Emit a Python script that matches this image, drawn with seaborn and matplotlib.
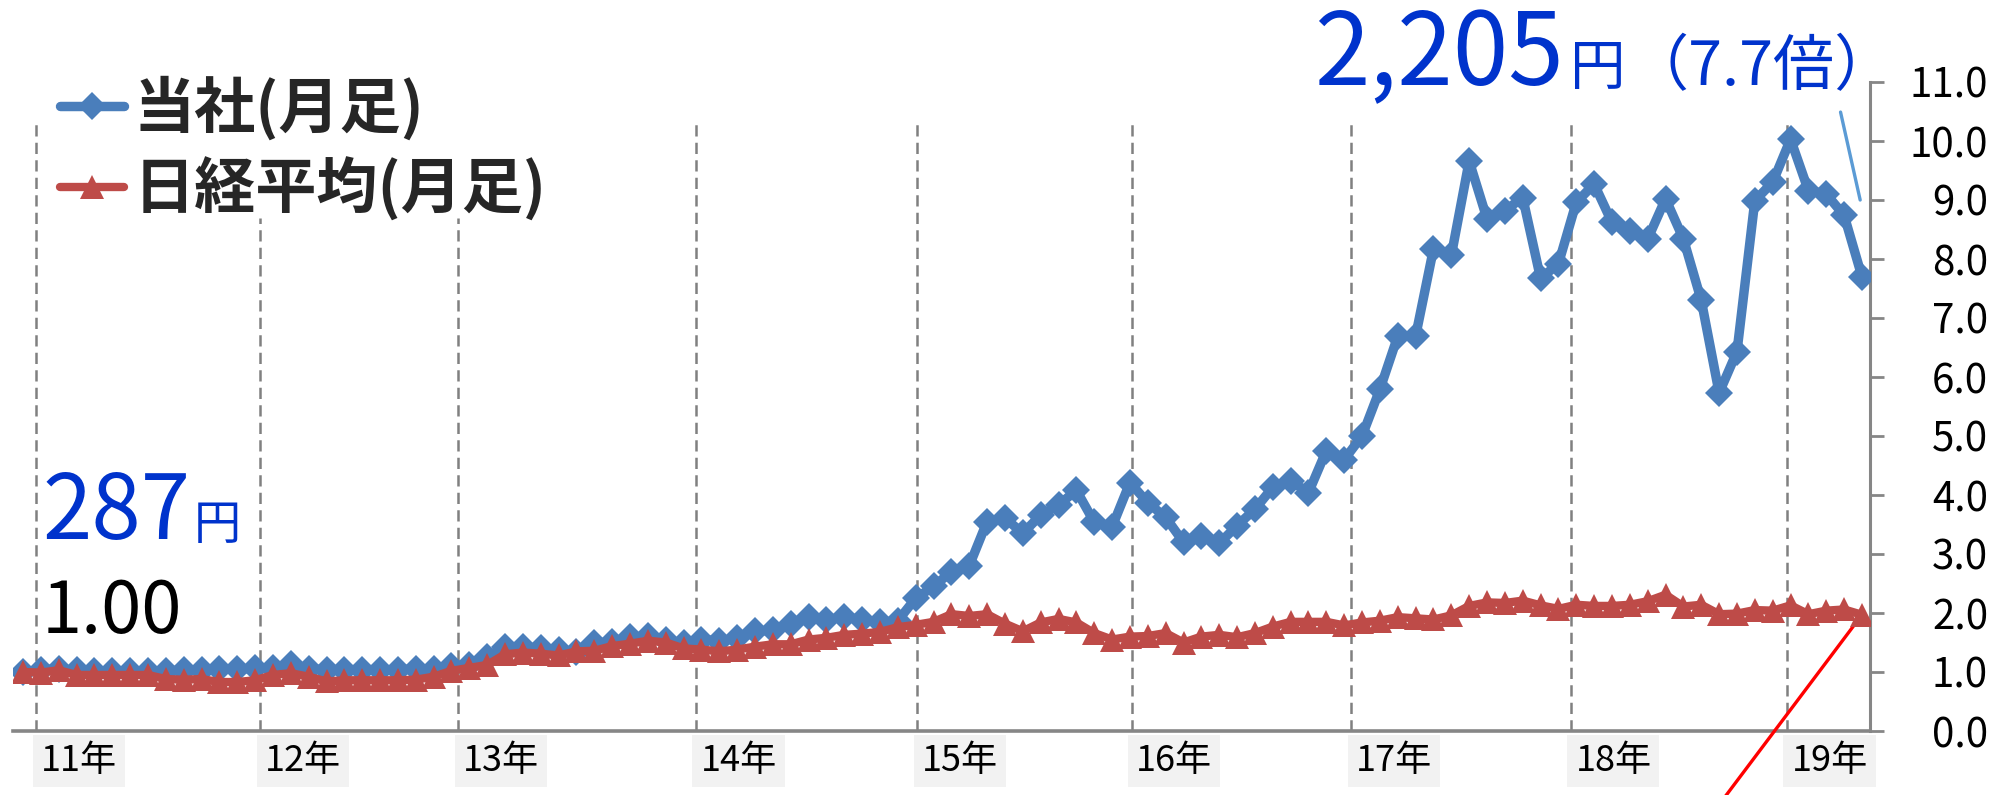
import numpy as np
import matplotlib
matplotlib.use("Agg")
import matplotlib.pyplot as plt
from matplotlib.font_manager import FontProperties
import seaborn as sns

# ---------------- data (monthly closes, index 0 = base month) ----------------
company = [1.00,
    1.04, 1.05, 1.03, 1.02, 1.02, 1.02, 1.02, 1.02, 1.03, 1.03, 1.05, 1.05,
    1.06, 1.07, 1.14, 1.05, 1.04, 1.04, 1.04, 1.04, 1.04, 1.05, 1.05, 1.10,
    1.12, 1.26, 1.43, 1.43, 1.40, 1.37, 1.34, 1.49, 1.51, 1.59, 1.61, 1.54,
    1.49, 1.55, 1.53, 1.57, 1.69, 1.71, 1.82, 1.94, 1.88, 1.94, 1.88, 1.84, 1.87,
    2.25, 2.45, 2.70, 2.80, 3.55, 3.61, 3.35, 3.66, 3.83, 4.08, 3.54, 3.46,
    4.21, 3.87, 3.62, 3.20, 3.31, 3.18, 3.48, 3.76, 4.13, 4.24, 4.04, 4.75,
    4.60, 5.00, 5.79, 6.69, 6.69, 8.17, 8.06, 9.66, 8.68, 8.82, 9.04, 7.67,
    7.92, 8.96, 9.27, 8.62, 8.48, 8.34, 9.02, 8.34, 7.30, 5.73, 6.43, 8.99,
    9.30, 10.03, 9.16, 9.10, 8.74, 7.70]
nikkei = [1.00,
    0.99, 1.03, 0.95, 0.95, 0.95, 0.95, 0.95, 0.88, 0.87, 0.88, 0.83, 0.83,
    0.86, 0.95, 0.98, 0.92, 0.84, 0.86, 0.86, 0.86, 0.86, 0.87, 0.92, 1.02,
    1.07, 1.12, 1.30, 1.33, 1.31, 1.28, 1.35, 1.36, 1.44, 1.48, 1.53, 1.50,
    1.40, 1.38, 1.35, 1.38, 1.43, 1.47, 1.47, 1.55, 1.58, 1.63, 1.65, 1.68, 1.76,
    1.80, 1.85, 1.98, 1.95, 1.98, 1.82, 1.69, 1.84, 1.90, 1.84, 1.66, 1.55,
    1.60, 1.61, 1.66, 1.50, 1.60, 1.63, 1.59, 1.66, 1.77, 1.85, 1.85, 1.85,
    1.79, 1.84, 1.87, 1.93, 1.91, 1.89, 1.96, 2.12, 2.18, 2.17, 2.21, 2.13,
    2.07, 2.14, 2.12, 2.12, 2.14, 2.20, 2.31, 2.11, 2.14, 1.98, 1.99, 2.05,
    2.04, 2.13, 1.98, 2.04, 2.06, 1.97]
months = list(range(len(company)))
year_labels = ["11年", "12年", "13年", "14年", "15年", "16年", "17年", "18年", "19年"]
series_labels = ["当社(月足)", "日経平均(月足)"]
y_ticks = [0.0, 1.0, 2.0, 3.0, 4.0, 5.0, 6.0, 7.0, 8.0, 9.0, 10.0, 11.0]
start_price = "287"
end_price = "2,205"
end_ratio = "（7.7倍）"
base_ratio = "1.00"

# ---------------- layout / style ----------------
W, H = 1997, 795
BLUE = "#4A7EBB"
RED = "#BE4B48"
TXT_BLUE = "#0033CC"
GRAY = "#868686"
grid_pos = [0.73, 13.28, 24.37, 37.69, 50.1, 62.1, 74.4, 86.7, 98.8]
grid_top = [10.37, 8.7, 8.7, 10.37, 10.37, 10.37, 10.37, 10.37, 10.37]
n_last = len(company) - 1

sns.set_style("white")
plt.rcParams["font.family"] = ["Noto Sans CJK JP", "DejaVu Sans"]

fig = plt.figure(figsize=(W / 100, H / 100), dpi=100)
ax = fig.add_axes([13 / W, 1 - 731 / H, (1870 - 13) / W, (731 - 82) / H])

# year gridlines
for gx, gt in zip(grid_pos, grid_top):
    ax.plot([gx, gx], [0, gt], color="#808080", lw=1.8, ls=(0, (4.5, 2.5)), zorder=1)

sns.lineplot(x=months, y=company, ax=ax, color=BLUE, lw=6.8, marker="D",
             markersize=14, markeredgewidth=0, zorder=3, legend=False)
l_company = ax.lines[-1]
sns.lineplot(x=months, y=nikkei, ax=ax, color=RED, lw=6.0, marker="^",
             markersize=17, markeredgewidth=0, zorder=4, legend=False)
l_nikkei = ax.lines[-1]

ax.set_xlim(-0.56, n_last + 0.45)
ax.set_ylim(0, 11)
ax.set_xlabel("")
ax.set_ylabel("")
ax.set_xticks([])

# axes styling
for s in ["top", "left"]:
    ax.spines[s].set_visible(False)
ax.spines["bottom"].set_color(GRAY)
ax.spines["bottom"].set_linewidth(2.6)
ax.spines["right"].set_color(GRAY)
ax.spines["right"].set_linewidth(2.2)
ax.yaxis.tick_right()
ax.set_yticks(y_ticks)
ax.set_yticklabels([f"{v:.1f}" for v in y_ticks])
ax.tick_params(axis="y", direction="out", length=10, width=2, color=GRAY,
               labelsize=29, pad=75, labelcolor="black")
for lab in ax.get_yticklabels():
    lab.set_horizontalalignment("right")

# year labels with light grey boxes
for gx, lab in zip(grid_pos, year_labels):
    ax.text(gx + 0.25, -0.018, lab, transform=ax.get_xaxis_transform(),
            ha="left", va="top", fontsize=26, color="black",
            bbox=dict(boxstyle="square,pad=0.22", fc="#F2F2F2", ec="none"))

# legend
fig.legend(handles=[l_company, l_nikkei], labels=series_labels,
           loc="upper left", bbox_to_anchor=(60 / W, 1 - 76 / H),
           frameon=False, prop=FontProperties(family=["Noto Sans CJK JP", "DejaVu Sans"],
                                              weight="bold", size=44),
           handlelength=1.05, handletextpad=0.15, labelspacing=0.28,
           borderpad=0, borderaxespad=0)

# annotation texts drawn in sequence
renderer = fig.canvas.get_renderer()


def seq_text(x_px, base_px, parts):
    x = x_px
    for s, size, color, gap in parts:
        x += gap
        t = fig.text(x / W, 1 - base_px / H, s, fontsize=size, color=color,
                     ha="left", va="baseline")
        bb = t.get_window_extent(renderer)
        x = bb.x1


seq_text(1314, 85, [(end_price, 72, TXT_BLUE, 0), ("円", 40, TXT_BLUE, 6),
                     (end_ratio, 44, TXT_BLUE, 2)])
seq_text(42, 539, [(start_price, 64, TXT_BLUE, 0), ("円", 34, TXT_BLUE, 4)])
fig.text(42 / W, 1 - 633 / H, base_ratio, fontsize=52, color="black",
         ha="left", va="baseline")

# callout lines
ax.annotate("", xy=(n_last - 0.1, 9.0), xytext=(n_last - 1.2, 10.49),
            arrowprops=dict(arrowstyle="-", color="#5B9BD5", lw=2.4,
                            shrinkA=0, shrinkB=0), annotation_clip=False)
ax.annotate("", xy=(months[-1], nikkei[-1]), xytext=(n_last - 9.1, -1.69),
            arrowprops=dict(arrowstyle="-", color="#FF0000", lw=2.4,
                            shrinkA=0, shrinkB=0), annotation_clip=False)

fig.savefig("out.png", dpi=100)
